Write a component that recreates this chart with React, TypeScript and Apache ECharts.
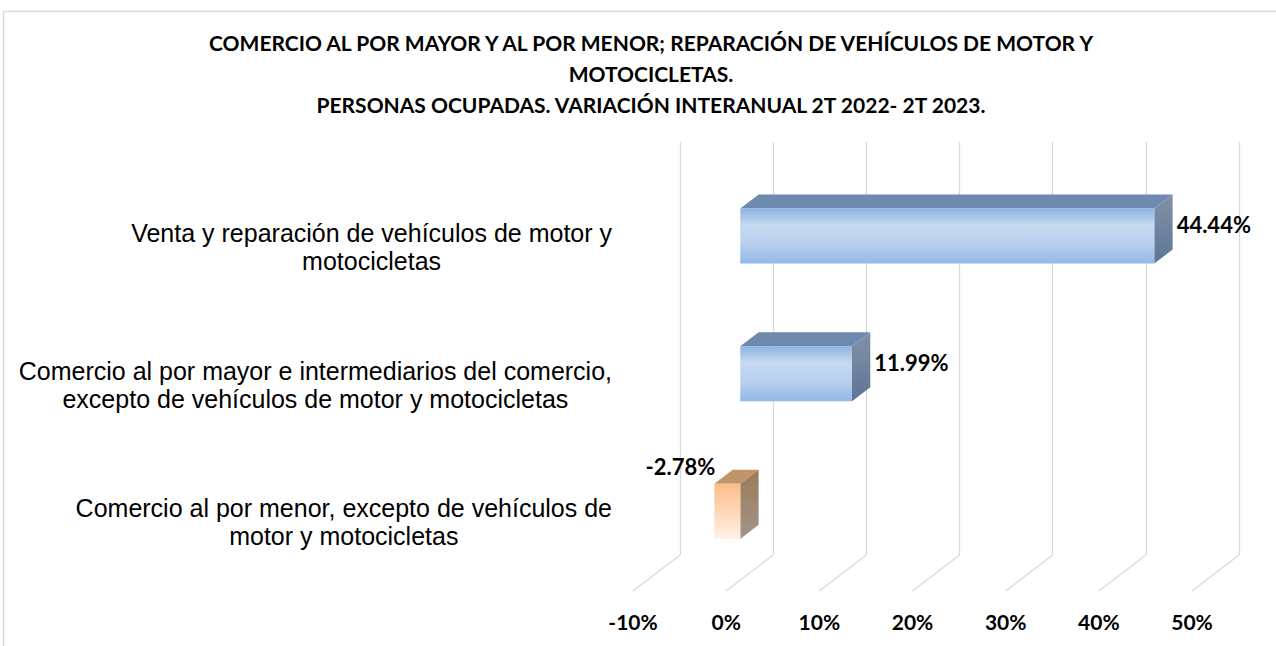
import React, { useEffect, useRef } from "react";
import * as echarts from "echarts";

// ---- data ----
const TITLE_LINES = [
  "COMERCIO AL POR MAYOR Y AL POR MENOR; REPARACIÓN DE VEHÍCULOS DE MOTOR Y",
  "MOTOCICLETAS.",
  "PERSONAS OCUPADAS. VARIACIÓN INTERANUAL 2T 2022- 2T 2023.",
];
const CATEGORIES = [
  "Venta y reparación de vehículos de motor y\nmotocicletas",
  "Comercio al por mayor e intermediarios del comercio,\nexcepto de vehículos de motor y motocicletas",
  "Comercio al por menor, excepto de vehículos de\nmotor y motocicletas",
];
const VALUES = [44.44, 11.99, -2.78];
const TICKS = [-10, 0, 10, 20, 30, 40, 50];
const X_MIN = -10;
const X_MAX = 50;
const X_STEP = 10;

// ---- style / 3D projection constants ----
const DEPTH_X = -47; // back wall -> front edge
const DEPTH_Y = 36;
const T_FRONT = 0.7; // bar front plane (fraction of depth)
const T_BACK = 0.31; // bar back plane
const BAR_RATIO = 0.4;
const GRID_COLOR = "#d9d9d9";
const BOLD_FONT = "Lato, 'Liberation Sans', sans-serif";

const POS_STYLE = {
  front: {
    type: "linear", x: 0, y: 0, x2: 0, y2: 1,
    colorStops: [
      { offset: 0, color: "#8db3e2" },
      { offset: 0.3, color: "#c6d9f1" },
      { offset: 0.65, color: "#b8cfee" },
      { offset: 1, color: "#93b8e5" },
    ],
  },
  top: "#6e8aae",
  side: {
    type: "linear", x: 0, y: 0, x2: 0, y2: 1,
    colorStops: [
      { offset: 0, color: "#8391a7" },
      { offset: 1, color: "#5d7596" },
    ],
  },
};
const NEG_STYLE = {
  front: {
    type: "linear", x: 0, y: 0, x2: 0, y2: 1,
    colorStops: [
      { offset: 0, color: "#fbbd89" },
      { offset: 1, color: "#fff1e6" },
    ],
  },
  top: "#c2946a",
  side: {
    type: "linear", x: 0, y: 0, x2: 0, y2: 1,
    colorStops: [
      { offset: 0, color: "#9c7a5b" },
      { offset: 1, color: "#a39487" },
    ],
  },
};

export default function App() {
  const ref = useRef<HTMLDivElement>(null);

  useEffect(() => {
    const chart = echarts.init(ref.current!, null, { renderer: "svg" });

    const renderBar = (params: any, api: any) => {
      const v = api.value(0) as number;
      const c = api.value(1) as number;
      const p0 = api.coord([0, c]);
      const p1 = api.coord([v, c]);
      const band = api.size([0, 1])[1];
      const h = band * BAR_RATIO;
      const yc = p0[1];
      const xl = Math.min(p0[0], p1[0]);
      const xr = Math.max(p0[0], p1[0]);
      const fx = DEPTH_X * T_FRONT, fy = DEPTH_Y * T_FRONT;
      const bx = DEPTH_X * T_BACK, by = DEPTH_Y * T_BACK;
      const yt = yc - h / 2;
      const yb = yc + h / 2;
      const st = v >= 0 ? POS_STYLE : NEG_STYLE;
      const text = v.toFixed(2) + "%";
      const label =
        v >= 0
          ? { x: xr + bx + 4, y: yc + 13.5, align: "left" }
          : { x: xl + fx + 1, y: yc - 20, align: "right" };
      return {
        type: "group",
        children: [
          {
            type: "polygon",
            shape: { points: [[xl + fx, yt + fy], [xr + fx, yt + fy], [xr + bx, yt + by], [xl + bx, yt + by]] },
            style: { fill: st.top },
          },
          {
            type: "polygon",
            shape: { points: [[xr + fx, yt + fy], [xr + bx, yt + by], [xr + bx, yb + by], [xr + fx, yb + fy]] },
            style: { fill: st.side },
          },
          {
            type: "rect",
            shape: { x: xl + fx, y: yt + fy, width: xr - xl, height: h },
            style: { fill: st.front },
          },
          {
            type: "text",
            x: label.x,
            y: label.y,
            style: {
              text,
              fill: "#000",
              font: `bold 22px ${BOLD_FONT}`,
              align: label.align,
              verticalAlign: "middle",
            },
          },
        ],
      };
    };

    const renderFloor = (params: any, api: any) => {
      const p = api.coord([api.value(0), 0]);
      const bottom = params.coordSys.y + params.coordSys.height;
      return {
        type: "line",
        shape: { x1: p[0], y1: bottom, x2: p[0] + DEPTH_X, y2: bottom + DEPTH_Y },
        style: { stroke: GRID_COLOR, lineWidth: 1.3 },
      };
    };

    chart.setOption({
      animation: false,
      backgroundColor: "#ffffff",
      title: {
        text: TITLE_LINES.join("\n"),
        left: 646,
        top: 22,
        textAlign: "center",
        textStyle: {
          fontFamily: BOLD_FONT,
          fontWeight: "bold",
          fontSize: 21,
          lineHeight: 31,
          color: "#000",
        },
      },
      graphic: [
        {
          type: "rect",
          shape: { x: 3.5, y: 11.5, width: 1400, height: 800 },
          style: { fill: "none", stroke: GRID_COLOR, lineWidth: 1.5 },
          silent: true,
        },
      ],
      grid: [
        { left: 680, top: 142, width: 559, height: 413, containLabel: false },
        { left: 633, top: 178, width: 559, height: 413, containLabel: false },
      ],
      xAxis: [
        {
          gridIndex: 0,
          type: "value",
          min: X_MIN,
          max: X_MAX,
          interval: X_STEP,
          axisLine: { show: false },
          axisTick: { show: false },
          axisLabel: { show: false },
          splitLine: { show: true, lineStyle: { color: GRID_COLOR, width: 1.3 } },
        },
        {
          gridIndex: 1,
          type: "value",
          min: X_MIN,
          max: X_MAX,
          interval: X_STEP,
          axisLine: { show: false },
          axisTick: { show: false },
          splitLine: { show: false },
          axisLabel: {
            formatter: "{value}%",
            margin: 20,
            color: "#000",
            fontFamily: BOLD_FONT,
            fontWeight: "bold",
            fontSize: 21,
          },
        },
      ],
      yAxis: [
        {
          gridIndex: 0,
          type: "category",
          inverse: true,
          data: CATEGORIES,
          axisLine: { show: false },
          axisTick: { show: false },
          axisLabel: { show: false },
          splitLine: { show: false },
        },
        {
          gridIndex: 1,
          type: "category",
          inverse: true,
          data: CATEGORIES,
          axisLine: { show: false },
          axisTick: { show: false },
          splitLine: { show: false },
          axisLabel: {
            margin: 21,
            formatter: (val: string) => `{c|${val}}`,
            rich: {
              c: {
                align: "center",
                fontFamily: "'Liberation Sans', Arial, sans-serif",
                fontSize: 25,
                lineHeight: 28,
                color: "#000",
              },
            },
          },
        },
      ],
      series: [
        {
          type: "custom",
          xAxisIndex: 0,
          yAxisIndex: 0,
          renderItem: renderFloor,
          data: TICKS.map((t) => [t, 0]),
          encode: { x: 0, y: 1 },
          silent: true,
          z: 1,
        },
        {
          type: "custom",
          xAxisIndex: 0,
          yAxisIndex: 0,
          renderItem: renderBar,
          data: VALUES.map((v, i) => [v, i]),
          encode: { x: 0, y: 1 },
          z: 3,
        },
      ],
    });

    return () => chart.dispose();
  }, []);

  return (
    <div
      ref={ref}
      style={{ position: "fixed", left: 0, top: 0, width: 1276, height: 646 }}
    />
  );
}
